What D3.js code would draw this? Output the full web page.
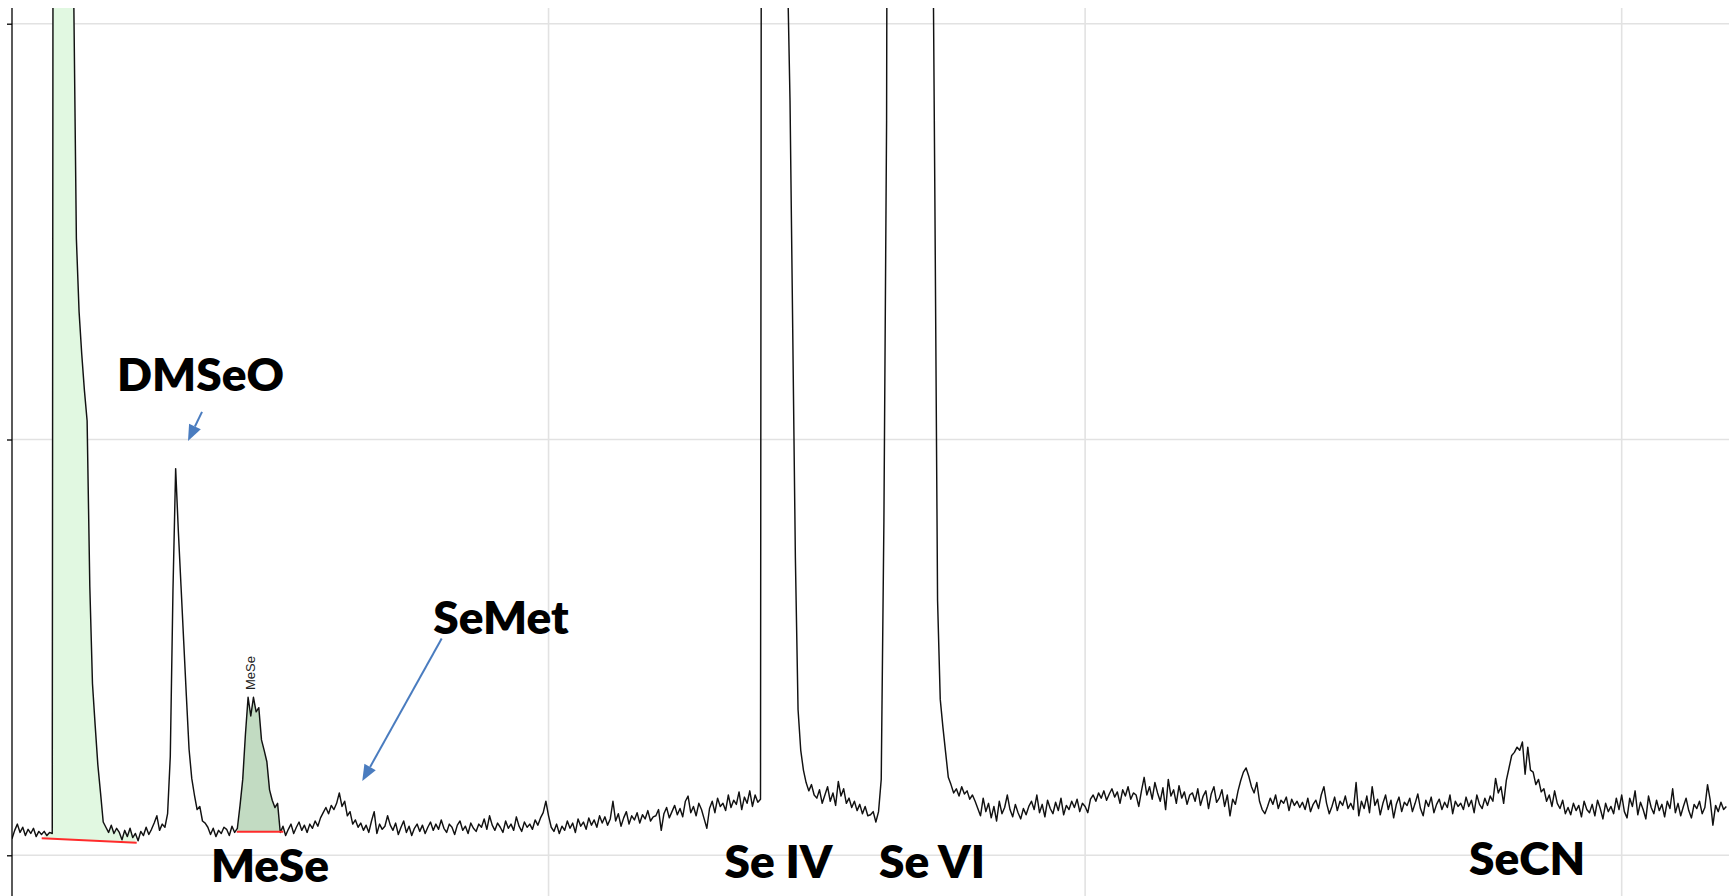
<!DOCTYPE html>
<html>
<head>
<meta charset="utf-8">
<script src="https://cdn.jsdelivr.net/npm/d3@7"></script>
<style>
  html, body { margin: 0; padding: 0; background: #fff; }
  svg { display: block; }
  .peak-label { font-family: Lato, "Open Sans", sans-serif; font-weight: 800; font-size: 46px; fill: #000; }
  .int-label { font-family: "Liberation Sans", Arial, sans-serif; font-size: 13px; fill: #222; }
</style>
</head>
<body>
<svg id="chart" width="1729" height="896"></svg>
<script>
// detector trace, one reading every 0.01 min (off-scale values run past the top)
const sampleStart = 0;
const sampleStep = 0.01;
const signal = [
  16,24,30,22,27,19,25,21,26,18,23,20,23,19,22,21,3000,3600,4000,4200,
  4300,4000,2600,830,593,523,482,447,418,259,165,125,87,60,32,27,22,29,21,26,
  22,15,24,18,26,17,21,14,23,19,27,20,25,31,38,24,30,27,40,95,
  255,372,312,259,206,153,102,74,58,44,47,33,31,27,20,26,18,24,21,27,
  25,19,28,22,26,48,73,116,152,134,152,138,142,111,101,90,63,53,46,50,
  22,28,19,25,30,21,27,32,24,29,22,30,26,33,28,36,41,46,40,48,
  44,50,60,47,52,38,42,30,34,27,31,24,29,22,33,42,21,30,25,28,
  38,29,24,31,20,27,33,22,28,19,26,30,23,29,21,27,32,24,30,25,
  34,26,22,30,27,20,29,33,24,28,21,31,26,23,30,27,35,25,38,29,
  24,31,27,22,33,26,30,24,37,28,23,32,27,30,25,34,29,36,41,52,
  38,27,23,30,21,28,24,33,26,31,22,35,28,32,25,36,29,34,27,38,
  31,37,29,35,52,33,40,28,36,42,30,38,34,41,31,39,35,43,33,37,
  38,44,24,40,46,36,42,48,39,45,37,52,57,41,47,38,50,44,35,26,
  45,52,41,55,47,50,43,58,46,53,49,61,44,56,50,62,47,58,51,54,
  3000,4200,5000,5400,5500,5300,4800,4000,2600,860,726,507,286,140,101,82,70,62,68,58,
  55,63,50,58,66,52,60,48,71,57,64,50,55,46,52,43,49,40,47,38,
  39,42,32,42,73,322,707,2000,3400,4600,5400,5900,6100,6000,5700,5200,4500,3700,2900,2200,
  1700,1350,1100,987,630,245,150,123,99,75,68,60,64,57,66,59,62,54,58,52,
  45,38,55,42,50,36,47,33,52,40,46,58,44,37,49,41,35,45,39,47,
  52,44,58,41,49,37,53,45,40,51,43,55,39,48,44,52,46,54,42,50,
  47,41,54,58,52,60,55,62,53,59,64,56,61,50,63,57,66,54,60,58,
  47,62,75,58,66,54,70,60,52,65,44,73,57,63,50,67,55,61,49,58,
  60,52,64,48,57,62,45,59,66,51,55,63,47,58,38,54,49,62,72,80,
  84,76,66,60,70,52,44,40,47,55,49,58,45,53,50,56,43,54,48,52,
  46,51,44,55,42,49,53,45,58,66,50,40,47,56,43,52,48,57,45,50,
  44,70,38,52,45,57,41,66,48,54,39,50,58,44,53,36,49,56,42,51,
  48,55,42,50,59,45,38,53,47,56,41,49,54,44,51,46,58,40,52,47,
  50,44,56,47,53,41,58,49,45,55,48,57,52,74,60,66,50,72,84,96,
  99,104,101,109,78,104,82,80,68,73,61,64,52,58,47,62,50,45,53,40,
  46,39,50,43,48,37,52,44,41,49,38,53,45,35,50,42,47,40,55,44,
  58,42,36,55,47,62,39,51,44,35,57,46,40,53,43,49,37,52,45,64,
  41,50,38,47,55,43,36,49,45,52,40,46,68,53,29,48,42,51,44,47
];

const timeGrid = [2, 4, 6];          // min
const intensityGrid = [0, 400, 800];

// species names, placed in (time, intensity) units
const peakNames = ['DMSeO', 'SeMet', 'MeSe', 'Se IV', 'Se VI', 'SeCN'];
const peakNameT = [0.7026, 1.8227, 0.9617, 2.8570, 3.4292, 5.6475];
const peakNameV = [446.8, 213, -26.0, -21.8, -21.8, -18.9];

// pointer arrows [fromT, fromV, toT, toV]
const arrows = [
  [0.7082, 426.6, 0.6560, 398.6],
  [1.6017, 208.5, 1.3057, 71.5]
];

// integrated peaks with their baselines
const integrations = [
  {name: '', start: 0.1107, end: 0.4648, base0: 16.4, base1: 12.1, fill: '#e1f8e1'},
  {name: 'MeSe', start: 0.8376, end: 1.0113, base0: 22.7, base1: 22.7, fill: '#c2dbc2', labelT: 0.9058, labelV: 159}
];

const width = 1729, height = 896;
const plot = {left: 12, right: 1729, top: 8, bottom: 896};

const svg = d3.select('#chart');
svg.append('rect').attr('width', width).attr('height', height).attr('fill', '#fff');

const x = d3.scaleLinear().domain([0, 6.4]).range([12, 1729]);
const y = d3.scaleLinear().domain([0, 800]).range([855.3, 23.7]);

const points = signal.map((v, i) => ({t: sampleStart + i * sampleStep, v: v}));

svg.append('clipPath').attr('id', 'plot-clip')
  .append('rect')
  .attr('x', plot.left).attr('y', plot.top)
  .attr('width', plot.right - plot.left).attr('height', plot.bottom - plot.top);

// grid
const grid = svg.append('g');
grid.selectAll('.hgrid')
  .data(intensityGrid)
  .enter().append('line')
  .attr('x1', plot.left).attr('x2', plot.right)
  .attr('y1', d => y(d)).attr('y2', d => y(d))
  .attr('stroke', '#e2e2e2').attr('stroke-width', 1.6);
grid.selectAll('.vgrid')
  .data(timeGrid)
  .enter().append('line')
  .attr('x1', d => x(d)).attr('x2', d => x(d))
  .attr('y1', plot.top).attr('y2', plot.bottom)
  .attr('stroke', '#e2e2e2').attr('stroke-width', 1.6);

const body = svg.append('g').attr('clip-path', 'url(#plot-clip)');

// integrated areas
integrations.forEach(p => {
  const base = d3.scaleLinear().domain([p.start, p.end]).range([p.base0, p.base1]);
  const inside = points.filter(d => d.t >= p.start - 1e-9 && d.t <= p.end + 1e-9);
  const area = d3.area()
    .x(d => x(d.t))
    .y0(d => y(base(d.t)))
    .y1(d => y(Math.max(d.v, base(d.t))));
  body.append('path').datum(inside)
    .attr('d', area)
    .attr('fill', p.fill);
});

// trace
const line = d3.line().x(d => x(d.t)).y(d => y(d.v));
body.append('path').datum(points)
  .attr('d', line)
  .attr('fill', 'none')
  .attr('stroke', '#111')
  .attr('stroke-width', 1.45)
  .attr('stroke-linejoin', 'round');

// baselines
integrations.forEach(p => {
  body.append('line')
    .attr('x1', x(p.start)).attr('y1', y(p.base0))
    .attr('x2', x(p.end)).attr('y2', y(p.base1))
    .attr('stroke', '#ff2b2b').attr('stroke-width', 2);
  if (p.name) {
    svg.append('text').attr('class', 'int-label')
      .attr('transform', `translate(${x(p.labelT)},${y(p.labelV)}) rotate(-90)`)
      .text(p.name);
  }
});

// y axis
const yAxis = d3.axisLeft(y).tickValues(intensityGrid).tickSize(5).tickSizeOuter(0).tickFormat('');
const gy = svg.append('g').attr('transform', `translate(${plot.left},0)`).call(yAxis);
gy.select('.domain').attr('d', `M0,${plot.top}V${plot.bottom}`);
gy.selectAll('line, path').attr('stroke', '#000').attr('stroke-width', 1.3);

// arrows
const blue = '#4a7cbf';
arrows.forEach(a => {
  const x0 = x(a[0]), y0 = y(a[1]), x1 = x(a[2]), y1 = y(a[3]);
  const len = Math.hypot(x1 - x0, y1 - y0);
  const ux = (x1 - x0) / len, uy = (y1 - y0) / len;
  const head = 16, half = 6.5;
  const bx = x1 - ux * head, by = y1 - uy * head;
  svg.append('line')
    .attr('x1', x0).attr('y1', y0).attr('x2', bx).attr('y2', by)
    .attr('stroke', blue).attr('stroke-width', 2);
  svg.append('path')
    .attr('d', `M${x1},${y1}L${bx - uy * half},${by + ux * half}L${bx + uy * half},${by - ux * half}Z`)
    .attr('fill', blue);
});

// labels
svg.selectAll('.peak-label')
  .data(peakNames)
  .enter().append('text')
  .attr('class', 'peak-label')
  .attr('text-anchor', 'middle')
  .attr('x', (d, i) => x(peakNameT[i]))
  .attr('y', (d, i) => y(peakNameV[i]))
  .text(d => d);
</script>
</body>
</html>
